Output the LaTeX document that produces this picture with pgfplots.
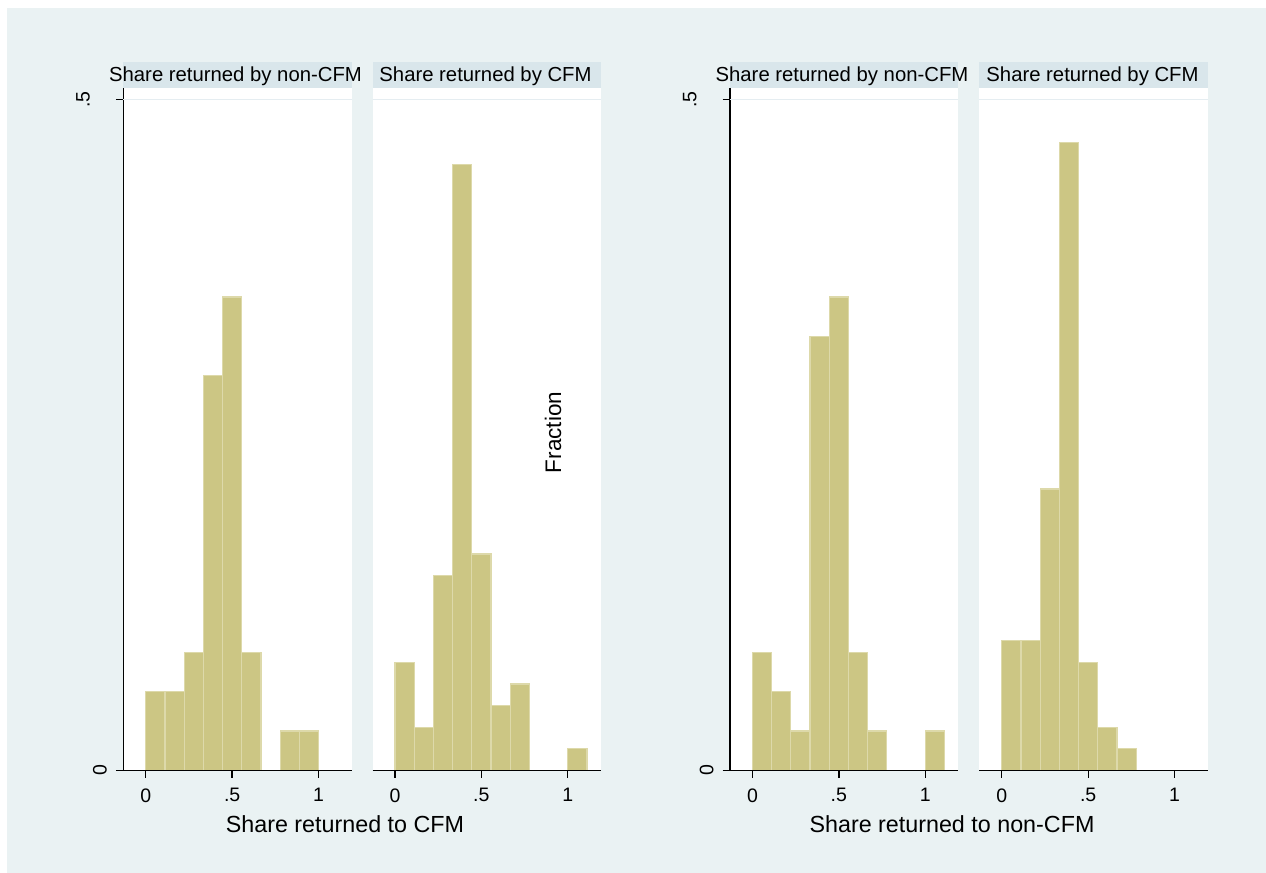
\documentclass[border=0pt]{standalone}
\usepackage{fontspec}
\setmainfont{Liberation Sans}
\usepackage{graphicx}
\usepackage{pgfplots}
\pgfplotsset{compat=1.18}
\definecolor{bgc}{RGB}{234,242,243}
\definecolor{strip}{RGB}{217,230,235}
\definecolor{barfill}{RGB}{204,198,132}
\definecolor{baredge}{RGB}{221,217,170}
\definecolor{gridc}{RGB}{229,237,241}

\pgfplotsset{
  panel/.style={
    scale only axis, width=228.4bp, height=682.5bp,
    xmin=-0.13, xmax=1.192, ymin=0, ymax=0.5086,
    axis background/.style={fill=white},
    axis on top,
    axis x line*=bottom, axis y line*=left,
    xtick={0,0.5,1}, xticklabels={0,.5,1},
    tick align=outside, major tick length=7.5bp,
    tick style={black, line width=1.3bp},
    axis line style={line width=1.5bp, black},
    tick label style={font=\fontsize{19.5bp}{22bp}\selectfont},
    xticklabel style={yshift=-7bp},
    ymajorgrids, grid style={gridc, line width=1.3bp},
    anchor=south west,
  },
  leftpanel/.style={panel,
    ytick={0}, yticklabels={\rotatebox{90}{0}},
    extra y ticks={0.5}, extra y tick labels={\rotatebox{90}{.5}},
    yticklabel style={inner sep=0pt, xshift=-8.8bp},
    extra y tick style={grid=major, yticklabel style={inner sep=0pt, xshift=-17bp}},
  },
  rightpanel/.style={panel,
    y axis line style={draw=none},
    ytick={0.5}, yticklabels={}, ytick style={draw=none},
  },
}

\begin{document}
\begin{tikzpicture}[x=1bp,y=1bp]
\useasboundingbox (0,0) rectangle (1266,873);
\fill[white] (0,0) rectangle (1266,873);
\fill[bgc] (7,0) rectangle (1266,865);

% header strips
\fill[strip] (123.3,785) rectangle (351.7,811);
\fill[strip] (372.5,785) rectangle (600.9,811);
\fill[strip] (730,785) rectangle (958.4,811);
\fill[strip] (979.3,785) rectangle (1207.7,811);
\begin{scope}[every node/.style={inner sep=0pt, anchor=base, font=\fontsize{20.3bp}{24bp}\selectfont}]
\node at (235.5,791.3) {Share returned by non-CFM};
\node at (485.5,791.3) {Share returned by CFM};
\node at (842,791.3) {Share returned by non-CFM};
\node at (1092.5,791.3) {Share returned by CFM};
\end{scope}

% Panel 1
\begin{axis}[leftpanel, at={(123.3bp,102.5bp)}]
\addplot[ybar interval, fill=barfill, draw=baredge, line width=1.2bp] coordinates {
(0.0000,0.0588) (0.1111,0.0588) (0.2222,0.0882) (0.3333,0.2941) (0.4444,0.3529)
(0.5556,0.0882) (0.6667,0.0000) (0.7778,0.0294) (0.8889,0.0294) (1.0000,0)};
\end{axis}

% Panel 2
\begin{axis}[rightpanel, at={(372.5bp,102.5bp)}]
\addplot[ybar interval, fill=barfill, draw=baredge, line width=1.2bp] coordinates {
(0.0000,0.0806) (0.1111,0.0323) (0.2222,0.1452) (0.3333,0.4516) (0.4444,0.1613)
(0.5556,0.0484) (0.6667,0.0645) (0.7778,0.0000) (0.8889,0.0000) (1.0000,0.0161) (1.1111,0)};
\end{axis}

% Panel 3
\begin{axis}[leftpanel, at={(730bp,102.5bp)}]
\addplot[ybar interval, fill=barfill, draw=baredge, line width=1.2bp] coordinates {
(0.0000,0.0882) (0.1111,0.0588) (0.2222,0.0294) (0.3333,0.3235) (0.4444,0.3529)
(0.5556,0.0882) (0.6667,0.0294) (0.7778,0.0000) (0.8889,0.0000) (1.0000,0.0294) (1.1111,0)};
\end{axis}

% Panel 4
\begin{axis}[rightpanel, at={(979.3bp,102.5bp)}]
\addplot[ybar interval, fill=barfill, draw=baredge, line width=1.2bp] coordinates {
(0.0000,0.0968) (0.1111,0.0968) (0.2222,0.2097) (0.3333,0.4677) (0.4444,0.0806)
(0.5556,0.0323) (0.6667,0.0161) (0.7778,0)};
\end{axis}

\node[rotate=90, inner sep=0pt, font=\fontsize{22.5bp}{26bp}\selectfont] at (553,440.5) {Fraction};
\begin{scope}[every node/.style={inner sep=0pt, anchor=base, font=\fontsize{23.3bp}{27bp}\selectfont}]
\node at (345,40) {Share returned to CFM};
\node at (952,40) {Share returned to non-CFM};
\end{scope}
\end{tikzpicture}
\end{document}
